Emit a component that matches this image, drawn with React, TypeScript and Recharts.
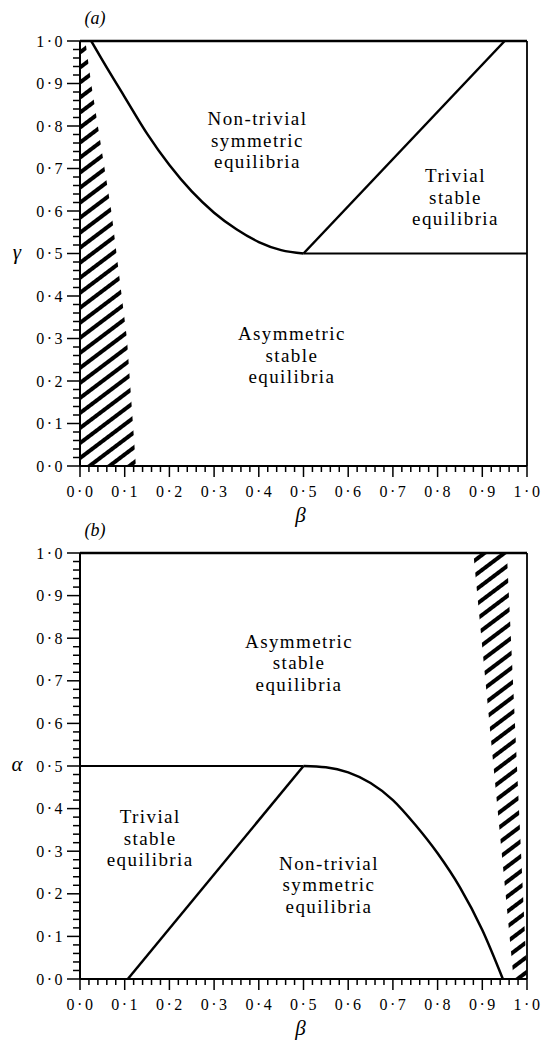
import React from "react";
import {
  ComposedChart,
  Line,
  Area,
  XAxis,
  YAxis,
  ReferenceLine,
  ReferenceDot,
  Label,
} from "recharts";

// tick values: majors every 0.1, minor marks every 0.02
const TICKS = Array.from({ length: 51 }, (_, i) => i / 50);

// panel (a): boundary curve, diagonal, flat line at 0.5, hatched wedge
const curveA = [
  { x: 0.025, y: 1.0 },
  { x: 0.05, y: 0.955 },
  { x: 0.1, y: 0.868 },
  { x: 0.15, y: 0.782 },
  { x: 0.2, y: 0.708 },
  { x: 0.25, y: 0.646 },
  { x: 0.3, y: 0.596 },
  { x: 0.35, y: 0.557 },
  { x: 0.4, y: 0.527 },
  { x: 0.45, y: 0.508 },
  { x: 0.5, y: 0.5 },
];
const diagA = [
  { x: 0.5, y: 0.5 },
  { x: 0.95, y: 1.0 },
];
const flatA = [
  { x: 0.5, y: 0.5 },
  { x: 1.0, y: 0.5 },
];
const hatchA = [
  { x: 0, range: [0, 1] },
  { x: 0.012, range: [0, 1] },
  { x: 0.025, range: [0, 0.9] },
  { x: 0.07, range: [0, 0.6] },
  { x: 0.105, range: [0, 0.3] },
  { x: 0.125, range: [0, 0] },
];
const labelsA = [
  { x: 0.397, y: 0.802, lines: ["Non-trivial", "symmetric", "equilibria"] },
  { x: 0.84, y: 0.668, lines: ["Trivial", "stable", "equilibria"] },
  { x: 0.474, y: 0.296, lines: ["Asymmetric", "stable", "equilibria"] },
];

// panel (b)
const curveB = [
  { x: 0.5, y: 0.5 },
  { x: 0.55, y: 0.497 },
  { x: 0.6, y: 0.485 },
  { x: 0.65, y: 0.46 },
  { x: 0.7, y: 0.42 },
  { x: 0.75, y: 0.362 },
  { x: 0.8, y: 0.295 },
  { x: 0.85, y: 0.215 },
  { x: 0.9, y: 0.115 },
  { x: 0.946, y: 0 },
];
const diagB = [
  { x: 0.107, y: 0 },
  { x: 0.5, y: 0.5 },
];
const flatB = [
  { x: 0, y: 0.5 },
  { x: 0.5, y: 0.5 },
];
const hatchB = [
  { x: 0.88, range: [1, 1] },
  { x: 0.955, range: [0.167, 1] },
  { x: 0.97, range: [0, 0.667] },
  { x: 1.0, range: [0, 0] },
];
const labelsB = [
  { x: 0.49, y: 0.777, lines: ["Asymmetric", "stable", "equilibria"] },
  { x: 0.157, y: 0.366, lines: ["Trivial", "stable", "equilibria"] },
  { x: 0.557, y: 0.256, lines: ["Non-trivial", "symmetric", "equilibria"] },
];

const SERIF = { fontFamily: "Liberation Serif, Times New Roman, serif" };

const isMajor = (v: number) => Math.round(v * 50) % 5 === 0;
const fmt = (v: number) => v.toFixed(1).replace(".", "\u00b7");

/* eslint-disable @typescript-eslint/no-explicit-any */
function XTick({ x, y, payload }: any) {
  const major = isMajor(payload.value);
  return (
    <g>
      <line x1={x} x2={x} y1={y} y2={y + (major ? 11 : 6)} stroke="#000" strokeWidth={1.5} />
      {major && (
        <text x={x + 1} y={y + 31} textAnchor="middle" style={SERIF} fontSize={16} letterSpacing={2.5} fill="#000">
          {fmt(payload.value)}
        </text>
      )}
    </g>
  );
}

function YTick({ x, y, payload }: any) {
  const major = isMajor(payload.value);
  return (
    <g>
      <line x1={x - (major ? 13 : 7)} x2={x} y1={y} y2={y} stroke="#000" strokeWidth={1.5} />
      {major && (
        <text x={x - 15} y={y + 5.5} textAnchor="end" style={SERIF} fontSize={16} letterSpacing={2.5} fill="#000">
          {fmt(payload.value)}
        </text>
      )}
    </g>
  );
}

// each region label: one <text> per line so boxes stay separate
const regionText = (lines: string[]) => (props: any) => (
  <g>
    {lines.map((l, i) => (
      <text
        key={i}
        x={props.cx}
        y={props.cy + i * 21.5}
        textAnchor="middle"
        style={SERIF}
        fontSize={19}
        letterSpacing={1.4}
        fill="#000"
      >
        {l}
      </text>
    ))}
  </g>
);

function Panel({ id, tag, yName, curve, diag, flat, hatch, labels, height, margin }: any) {
  return (
    <ComposedChart width={541} height={height} margin={margin}>
      <defs>
        <pattern id={id} patternUnits="userSpaceOnUse" width={12} height={12} patternTransform="rotate(-37)">
          <line x1={0} y1={6} x2={12} y2={6} stroke="#000" strokeWidth={4} />
        </pattern>
      </defs>
      <XAxis
        dataKey="x"
        type="number"
        domain={[0, 1]}
        ticks={TICKS}
        interval={0}
        tickSize={0}
        tickMargin={0}
        tickLine={false}
        tick={<XTick />}
        axisLine={{ stroke: "#000", strokeWidth: 2 }}
        height={30}
      >
        <Label
          content={({ viewBox }: any) => (
            <text x={viewBox.x + viewBox.width / 2 - 3} y={viewBox.y + 56} textAnchor="middle" style={SERIF} fontStyle="italic" fontSize={21} fill="#000">
              β
            </text>
          )}
        />
      </XAxis>
      <YAxis
        type="number"
        domain={[0, 1]}
        ticks={TICKS}
        interval={0}
        tickSize={0}
        tickMargin={0}
        tickLine={false}
        tick={<YTick />}
        axisLine={{ stroke: "#000", strokeWidth: 2 }}
        width={60}
      >
        <Label
          content={({ viewBox }: any) => (
            <g>
              <text x={viewBox.x - 3} y={viewBox.y + viewBox.height / 2 + 5} textAnchor="middle" style={SERIF} fontStyle="italic" fontSize={21} fill="#000">
                {yName}
              </text>
              <text x={viewBox.x + 75} y={viewBox.y - 17} textAnchor="middle" style={SERIF} fontStyle="italic" fontSize={18} fill="#000">
                {tag}
              </text>
            </g>
          )}
        />
      </YAxis>
      <Area
        data={hatch}
        dataKey="range"
        type="linear"
        stroke="none"
        fill={`url(#${id})`}
        fillOpacity={1}
        isAnimationActive={false}
      />
      <ReferenceLine y={1} stroke="#000" strokeWidth={2.5} />
      <ReferenceLine x={1} stroke="#000" strokeWidth={1.8} />
      <Line data={curve} dataKey="y" type="monotone" stroke="#000" strokeWidth={2.5} dot={false} isAnimationActive={false} />
      <Line data={diag} dataKey="y" type="linear" stroke="#000" strokeWidth={2.5} dot={false} isAnimationActive={false} />
      <Line data={flat} dataKey="y" type="linear" stroke="#000" strokeWidth={2.2} dot={false} isAnimationActive={false} />
      {labels.map((l: any, i: number) => (
        <ReferenceDot key={i} x={l.x} y={l.y} r={0} shape={regionText(l.lines)} />
      ))}
    </ComposedChart>
  );
}
/* eslint-enable @typescript-eslint/no-explicit-any */

export default function App() {
  return (
    <div style={{ position: "absolute", left: 0, top: 0, width: 541, height: 1040, background: "#fff" }}>
      <div style={{ position: "absolute", left: 0, top: 0 }}>
        <Panel
          id="hatchA"
          tag="(a)"
          yName="γ"
          curve={curveA}
          diag={diagA}
          flat={flatA}
          hatch={hatchA}
          labels={labelsA}
          height={530}
          margin={{ top: 41, right: 14, bottom: 34, left: 20 }}
        />
      </div>
      <div style={{ position: "absolute", left: 0, top: 520 }}>
        <Panel
          id="hatchB"
          tag="(b)"
          yName="α"
          curve={curveB}
          diag={diagB}
          flat={flatB}
          hatch={hatchB}
          labels={labelsB}
          height={520}
          margin={{ top: 33, right: 14, bottom: 31, left: 20 }}
        />
      </div>
    </div>
  );
}
